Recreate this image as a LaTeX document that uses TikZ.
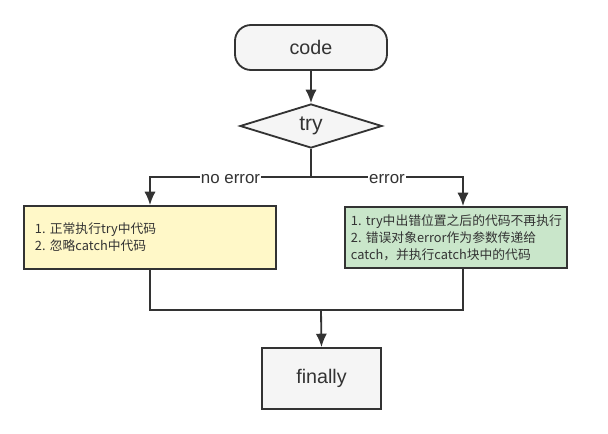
\documentclass[tikz,border=0pt]{standalone}
\usepackage{fontspec}
\setmainfont{Liberation Sans}
\newfontfamily\cjk{Noto Sans CJK SC}
\usetikzlibrary{positioning,shapes.geometric,arrows.meta,calc}
\definecolor{linegray}{HTML}{333333}
\definecolor{boxgray}{HTML}{F5F5F5}
\definecolor{noteyellow}{HTML}{FFF8C8}
\definecolor{notegreen}{HTML}{C9E6CA}
\tikzset{every picture/.style={>={Latex[length=9.5pt,width=8pt]},line width=1.3pt}}
\tikzset{block/.style={draw=linegray,fill=boxgray,text=linegray,font=\fontsize{14}{16}\selectfont}}
\tikzset{note/.style={draw=linegray,text=linegray,align=left,inner ysep=0pt,font=\cjk\fontsize{9.1}{12}\selectfont}}
\tikzset{flow/.style={draw=linegray,->}}
\tikzset{branch/.style={fill=white,text=linegray,inner sep=1pt,yshift=-1.5pt,font=\fontsize{12}{14}\selectfont}}

\begin{document}
\begin{tikzpicture}[x=0.025cm,y=-0.025cm]
  \useasboundingbox (0,0) rectangle (608,434);
  % start and test
  \node[block,rounded corners=0.4cm,minimum width=3.8cm,minimum height=1.125cm] (code) at (311,47.5) {code};
  \node[block,diamond,aspect=3.2,inner sep=0pt,minimum width=3.55cm,minimum height=1.1cm,font=\fontsize{15}{17}\selectfont] (try) at (311,126) {try};
  \coordinate (split) at (311,177);
  % the two outcomes
  \node[note,fill=noteyellow,text width=5.75cm,inner xsep=0.275cm,minimum height=1.575cm] (yes) at (150,237.5)
    {1.~正常执行try中代码\\2.~忽略catch中代码};
  \node[note,fill=notegreen,text width=5.25cm,inner xsep=0.15cm,minimum height=1.525cm] (err) at (456,237.5)
    {1.~try中出错位置之后的代码不再执行\\2.~错误对象error作为参数传递给\\catch，并执行catch块中的代码};
  \coordinate (join) at (321,310);
  \node[block,minimum width=2.975cm,minimum height=1.525cm] (fin) at (321.5,378.5) {finally};

  \draw[flow] (code) -- (try);
  \draw[draw=linegray] (try.south) -- (split);
  \draw[flow] (split) -| node[branch,pos=0.25] {no error} (yes.north);
  \draw[flow] (split) -| node[branch,pos=0.25] {error} ([xshift=0.175cm]err.north);
  \draw[draw=linegray] (yes.south) |- (join) -| ([xshift=0.175cm]err.south);
  \draw[flow] (join) -- (fin.north);
\end{tikzpicture}
\end{document}
